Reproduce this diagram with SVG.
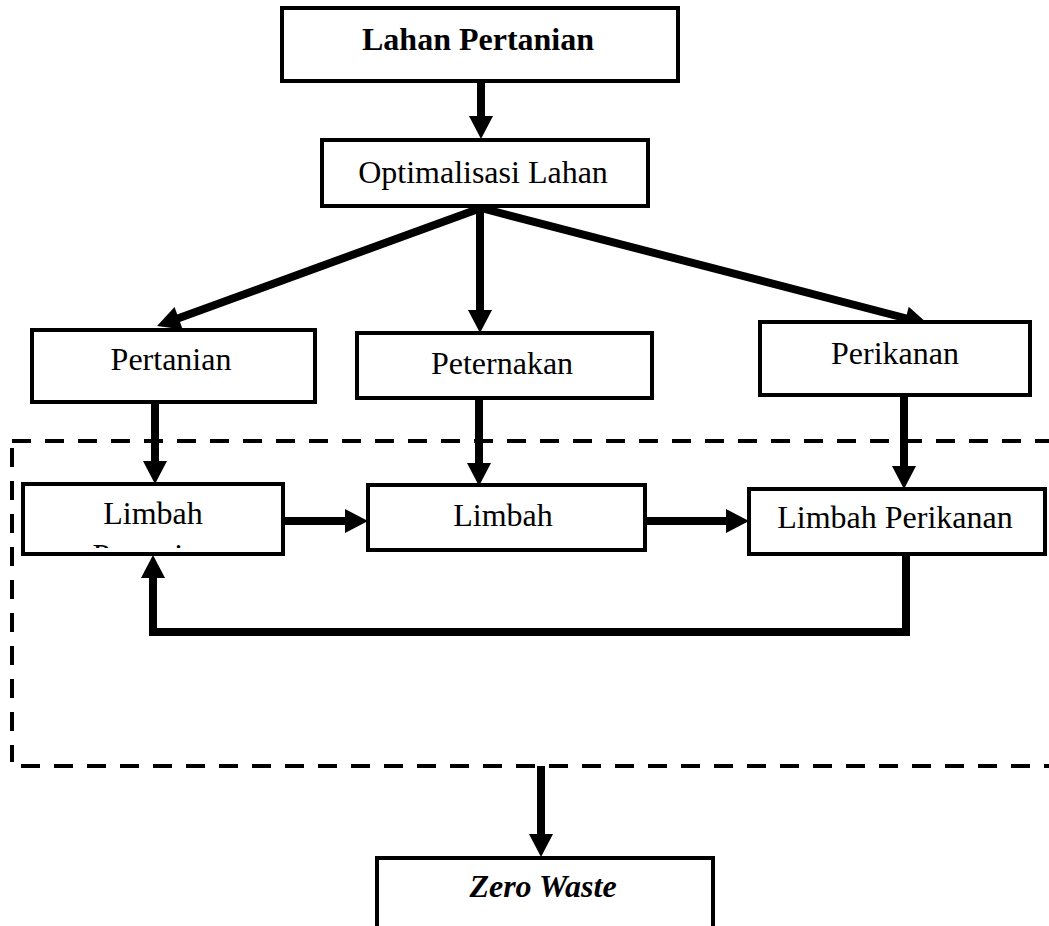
<svg xmlns="http://www.w3.org/2000/svg" width="1049" height="926" viewBox="0 0 1049 926">
<style>
.box{fill:#fff;stroke:#000;stroke-width:4}
.t{font-family:"Liberation Serif","Times New Roman",serif;font-size:32px;fill:#000;text-anchor:middle}
.b{font-weight:bold}
.bi{font-weight:bold;font-style:italic}
.c{fill:none;stroke:#000;stroke-width:8}
.dash{fill:none;stroke:#000;stroke-width:4;stroke-dasharray:19 14}
</style>
<defs>
<marker id="ah" markerUnits="userSpaceOnUse" markerWidth="24" markerHeight="24" refX="1" refY="12" orient="auto" overflow="visible">
<path d="M0,0 L23,12 L0,24 Z" fill="#000"/>
</marker>
<clipPath id="clipLP"><rect x="25" y="486" width="256" height="62"/></clipPath>
</defs>
<rect width="1049" height="926" fill="#fff"/>
<g id="region">
<path class="dash" d="M12,441 H1049"/>
<path class="dash" d="M12,448 V762"/>
<path class="dash" d="M21,766 H1049"/>
</g>
<g id="connectors">
<line class="c" x1="481" y1="81" x2="481" y2="117" marker-end="url(#ah)"/>
<line class="c" x1="481" y1="208" x2="177.7" y2="318.5" marker-end="url(#ah)"/>
<line class="c" x1="480" y1="206" x2="480" y2="311" marker-end="url(#ah)"/>
<line class="c" x1="481" y1="208" x2="906.7" y2="318.5" marker-end="url(#ah)"/>
<line class="c" x1="155" y1="402" x2="155" y2="462" marker-end="url(#ah)"/>
<line class="c" x1="479" y1="398" x2="479" y2="464" marker-end="url(#ah)"/>
<line class="c" x1="904" y1="395" x2="904" y2="467" marker-end="url(#ah)"/>
<line class="c" x1="283" y1="521" x2="346" y2="521" marker-end="url(#ah)"/>
<line class="c" x1="645" y1="521" x2="727" y2="521" marker-end="url(#ah)"/>
<path class="c" d="M906,554 V632 H153 V577" marker-end="url(#ah)"/>
<line class="c" x1="541" y1="766" x2="541" y2="835" marker-end="url(#ah)"/>
</g>
<g id="lahan-pertanian">
<rect class="box" x="282" y="8" width="396" height="73"/>
<text class="t b" x="478" y="50">Lahan Pertanian</text>
</g>
<g id="optimalisasi-lahan">
<rect class="box" x="322" y="140" width="326" height="66"/>
<text class="t" x="483" y="183">Optimalisasi Lahan</text>
</g>
<g id="pertanian">
<rect class="box" x="32" y="330" width="283" height="72"/>
<text class="t" x="171" y="370">Pertanian</text>
</g>
<g id="peternakan">
<rect class="box" x="357" y="333" width="295" height="65"/>
<text class="t" x="502" y="374">Peternakan</text>
</g>
<g id="perikanan">
<rect class="box" x="760" y="322" width="270" height="73"/>
<text class="t" x="895" y="364">Perikanan</text>
</g>
<g id="limbah-pertanian">
<rect class="box" x="23" y="484" width="260" height="70"/>
<text class="t" x="153" y="524">Limbah</text>
<text class="t" x="153" y="566" clip-path="url(#clipLP)">Pertanian</text>
</g>
<g id="limbah">
<rect class="box" x="368" y="485" width="277" height="65"/>
<text class="t" x="503" y="526">Limbah</text>
</g>
<g id="limbah-perikanan">
<rect class="box" x="749" y="489" width="296" height="65"/>
<text class="t" x="895" y="528">Limbah Perikanan</text>
</g>
<g id="zero-waste">
<rect class="box" x="377" y="858" width="336" height="100"/>
<text class="t bi" x="543" y="897">Zero Waste</text>
</g>
</svg>
